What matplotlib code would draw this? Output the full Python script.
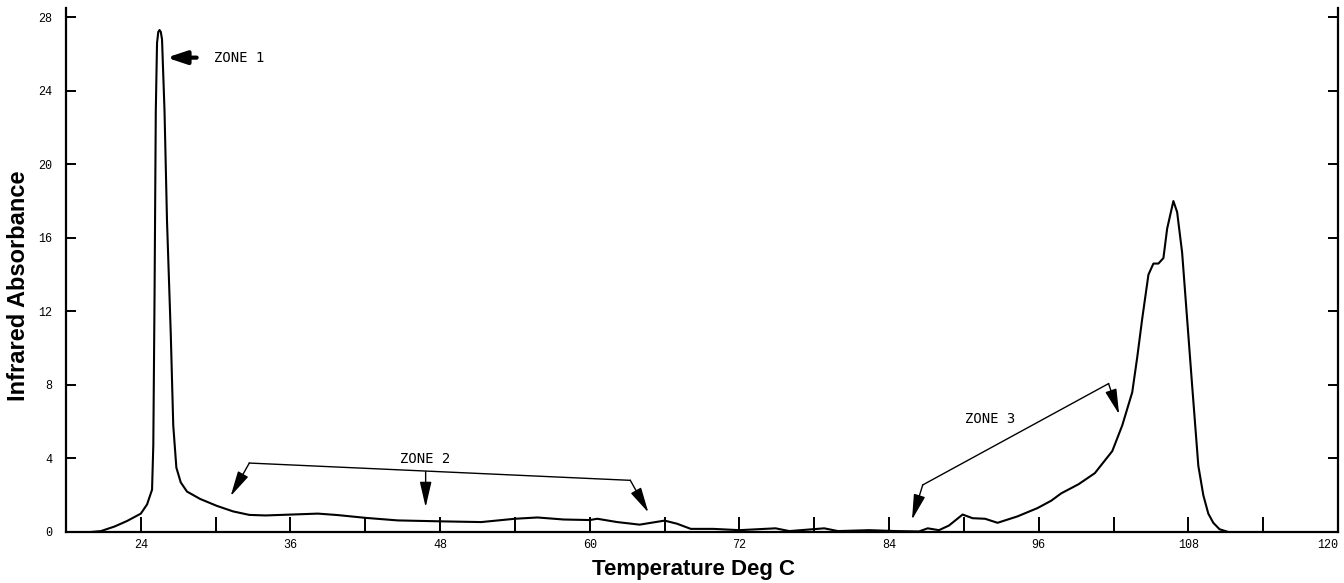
import matplotlib
matplotlib.use("Agg")
import matplotlib.pyplot as plt

# temperature (deg C) and infrared absorbance
temp = [20.0, 20.8, 21.9, 22.9, 24.0, 24.5, 24.9, 25.0, 25.1, 25.2, 25.3, 25.4, 25.5,
        25.6, 25.7, 25.9, 26.1, 26.4, 26.6, 26.85, 27.2, 27.7, 28.75, 30.1, 31.4, 32.7,
        34.0, 36.1, 38.2, 39.8, 42.0, 44.6, 48.0, 51.3, 54.0, 55.8, 57.9, 60.0, 60.6,
        62.2, 64.0, 66.0, 67.0, 68.1, 69.9, 72.0, 74.9, 76.0, 78.8, 79.9, 82.4, 84.6,
        86.4, 87.1, 88.0, 88.8, 89.9, 90.7, 91.7, 92.7, 94.3, 95.9, 97.0, 97.8, 99.2,
        100.5, 101.9, 102.7, 103.5, 103.9, 104.3, 104.8, 105.2, 105.6, 106.0, 106.3,
        106.8, 107.1, 107.5, 107.9, 108.3, 108.8, 109.2, 109.6, 110.0, 110.5, 111.2]
absorb = [0.0, 0.05, 0.3, 0.6, 1.0, 1.5, 2.3, 4.7, 12.8, 22.9, 26.6, 27.2, 27.3,
          27.2, 26.8, 22.9, 16.9, 10.8, 5.8, 3.5, 2.7, 2.2, 1.8, 1.42, 1.12, 0.93,
          0.9, 0.95, 1.0, 0.92, 0.77, 0.63, 0.58, 0.54, 0.72, 0.79, 0.68, 0.65, 0.72,
          0.54, 0.40, 0.62, 0.45, 0.17, 0.17, 0.1, 0.2, 0.05, 0.2, 0.05, 0.1, 0.05,
          0.03, 0.2, 0.1, 0.35, 0.95, 0.75, 0.72, 0.5, 0.85, 1.3, 1.7, 2.1, 2.6,
          3.2, 4.4, 5.8, 7.6, 9.5, 11.6, 14.0, 14.6, 14.6, 14.9, 16.5,
          18.0, 17.4, 15.2, 11.6, 8.0, 3.6, 2.0, 1.0, 0.5, 0.15, 0.0]

x_major = [24, 36, 48, 60, 72, 84, 96, 108, 120]
x_minor = [30, 42, 54, 66, 78, 90, 102, 114]
y_ticks = [0, 4, 8, 12, 16, 20, 24, 28]

tick_font = ['Liberation Mono', 'DejaVu Sans Mono']
zone_font = ['Liberation Sans Narrow', 'DejaVu Sans Mono']
label_font = ['Liberation Sans', 'DejaVu Sans']

fig = plt.figure(figsize=(13.44, 5.83), dpi=100)
ax = fig.add_axes([66 / 1344, 51 / 583, 1272 / 1344, 524 / 583])

ax.plot(temp, absorb, color='black', lw=1.5, solid_joinstyle='round')

ax.set_xlim(18, 120)
ax.set_ylim(0, 28.5)
ax.spines['top'].set_visible(False)
for s in ['left', 'right', 'bottom']:
    ax.spines[s].set_linewidth(1.6)

ax.set_xticks(x_major)
ax.set_xticks(x_minor, minor=True)
ax.set_yticks(y_ticks)
ax.tick_params(axis='x', which='both', direction='in', length=11, width=1.4, pad=5)
ax.tick_params(axis='y', direction='in', length=7, width=1.4, right=True, pad=10)
for lab in ax.get_xticklabels() + ax.get_yticklabels():
    lab.set_family(tick_font)
    lab.set_fontsize(8.5)
ax.get_xticklabels()[-1].set_horizontalalignment('right')

ax.set_xlabel('Temperature Deg C', fontsize=16, fontweight='bold', family=label_font,
              va='center')
ax.xaxis.set_label_coords(0.493, -0.072)
ax.set_ylabel('Infrared Absorbance', fontsize=17, fontweight='bold', family=label_font,
              va='center')
ax.yaxis.set_label_coords(-0.037, 0.47)

# zone 1
ax.annotate('', xy=(25.85, 25.8), xytext=(28.7, 25.8),
            arrowprops=dict(arrowstyle='-|>,head_length=0.9,head_width=0.3',
                            lw=3, color='black', mutation_scale=13))
ax.text(29.9, 25.8, 'ZONE 1', fontsize=10, family=zone_font, va='center', ha='left')

thin = dict(arrowstyle='-|>,head_length=1.3,head_width=0.3', lw=1,
            color='black', mutation_scale=12, shrinkA=0, shrinkB=0)

# zone 2 bracket
ax.plot([32.7, 63.25], [3.75, 2.81], color='black', lw=1)
ax.annotate('', xy=(31.2, 1.95), xytext=(32.7, 3.75), arrowprops=thin)
ax.annotate('', xy=(46.84, 1.35), xytext=(46.84, 3.28), arrowprops=thin)
ax.annotate('', xy=(64.7, 1.06), xytext=(63.25, 2.81), arrowprops=thin)
ax.text(46.8, 3.95, 'ZONE 2', fontsize=10, family=zone_font, va='center', ha='center')

# zone 3 bracket
ax.plot([86.7, 101.6], [2.56, 8.07], color='black', lw=1)
ax.annotate('', xy=(85.84, 0.67), xytext=(86.7, 2.56), arrowprops=thin)
ax.annotate('', xy=(102.45, 6.4), xytext=(101.6, 8.07), arrowprops=thin)
ax.text(92.1, 6.15, 'ZONE 3', fontsize=10, family=zone_font, va='center', ha='center')

plt.savefig('out.png', dpi=100)
